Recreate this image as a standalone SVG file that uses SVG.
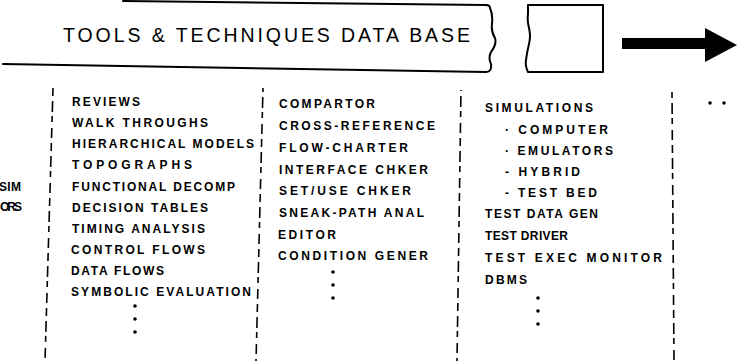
<svg xmlns="http://www.w3.org/2000/svg" width="739" height="361" viewBox="0 0 739 361">
<style>
.ln{fill:none;stroke:#000;stroke-width:2;stroke-linejoin:round;stroke-linecap:round}
.div{fill:none;stroke:#000;stroke-width:1.6;stroke-dasharray:8 5 11 4 6 6 10 5}
.title{font-family:"Liberation Sans",Arial,sans-serif;font-size:19.5px;fill:#000}
.t{font-family:"Liberation Sans",Arial,sans-serif;font-size:12px;font-weight:bold;fill:#000}
.dot{fill:#000}
</style>
<rect width="739" height="361" fill="#fff"/>
<g id="banner">
<path class="ln" d="M123,1 L486,5 Q490,5 490,8 Q493,14 492,24 Q491,32 495,38 Q497,44 491,52 Q488,58 491,64 Q492,72 486,72 L3,64"/>
<text class="title" x="63" y="42" textLength="407" lengthAdjust="spacing">TOOLS &amp; TECHNIQUES DATA BASE</text>
</g>
<g id="box">
<path class="ln" d="M528,5 L603,5 L603,72 L528,72 Q525,66 526,60 Q527,52 529,44 Q531,36 529,28 Q527,20 528,14 Q528,8 528,5 Z"/>
</g>
<g id="arrow">
<polygon points="622,38 705,38 705,28 737,45 705,62 705,49 622,49" fill="#000"/>
</g>
<g id="connectors">
<path class="div" d="M53,88 L45,361"/>
<path class="div" d="M263,88 L256,361" style="stroke-dashoffset:4"/>
<path class="div" d="M461,90 L457,361" style="stroke-dashoffset:7"/>
<path class="div" d="M672,92 L674,361" style="stroke-dashoffset:2"/>
</g>
<g id="left-cut">
<text class="t" x="-1" y="191" textLength="22" lengthAdjust="spacing">SIM</text>
<text class="t" x="0" y="211" textLength="22" lengthAdjust="spacing">ORS</text>
</g>
<g id="col1">
<text class="t" x="72" y="106" textLength="68" lengthAdjust="spacing">REVIEWS</text>
<text class="t" x="72" y="127" textLength="136" lengthAdjust="spacing">WALK THROUGHS</text>
<text class="t" x="72" y="148" textLength="182" lengthAdjust="spacing">HIERARCHICAL MODELS</text>
<text class="t" x="72" y="169" textLength="120" lengthAdjust="spacing">TOPOGRAPHS</text>
<text class="t" x="72" y="191" textLength="163" lengthAdjust="spacing">FUNCTIONAL DECOMP</text>
<text class="t" x="72" y="212" textLength="136" lengthAdjust="spacing">DECISION TABLES</text>
<text class="t" x="72" y="233" textLength="133" lengthAdjust="spacing">TIMING ANALYSIS</text>
<text class="t" x="71" y="254" textLength="134" lengthAdjust="spacing">CONTROL FLOWS</text>
<text class="t" x="71" y="275" textLength="93" lengthAdjust="spacing">DATA FLOWS</text>
<text class="t" x="71" y="296" textLength="180" lengthAdjust="spacing">SYMBOLIC EVALUATION</text>
<circle class="dot" cx="135" cy="306" r="1.8"/>
<circle class="dot" cx="135" cy="319" r="1.8"/>
<circle class="dot" cx="135" cy="332" r="1.8"/>
</g>
<g id="col2">
<text class="t" x="279" y="108" textLength="96" lengthAdjust="spacing">COMPARTOR</text>
<text class="t" x="279" y="130" textLength="156" lengthAdjust="spacing">CROSS-REFERENCE</text>
<text class="t" x="279" y="152" textLength="129" lengthAdjust="spacing">FLOW-CHARTER</text>
<text class="t" x="279" y="174" textLength="149" lengthAdjust="spacing">INTERFACE CHKER</text>
<text class="t" x="279" y="195" textLength="132" lengthAdjust="spacing">SET/USE CHKER</text>
<text class="t" x="279" y="217" textLength="145" lengthAdjust="spacing">SNEAK-PATH ANAL</text>
<text class="t" x="278" y="239" textLength="58" lengthAdjust="spacing">EDITOR</text>
<text class="t" x="278" y="260" textLength="150" lengthAdjust="spacing">CONDITION GENER</text>
<circle class="dot" cx="333" cy="272" r="1.8"/>
<circle class="dot" cx="333" cy="285" r="1.8"/>
<circle class="dot" cx="333" cy="298" r="1.8"/>
</g>
<g id="col3">
<text class="t" x="485" y="112" textLength="108" lengthAdjust="spacing">SIMULATIONS</text>
<text class="t" x="505" y="134" textLength="103" lengthAdjust="spacing">· COMPUTER</text>
<text class="t" x="505" y="155" textLength="108" lengthAdjust="spacing">· EMULATORS</text>
<text class="t" x="505" y="176" textLength="75" lengthAdjust="spacing">- HYBRID</text>
<text class="t" x="505" y="197" textLength="92" lengthAdjust="spacing">- TEST BED</text>
<text class="t" x="485" y="218" textLength="113" lengthAdjust="spacing">TEST DATA GEN</text>
<text class="t" x="485" y="240" textLength="83" lengthAdjust="spacing">TEST DRIVER</text>
<text class="t" x="485" y="262" textLength="177" lengthAdjust="spacing">TEST EXEC MONITOR</text>
<text class="t" x="485" y="284" textLength="42" lengthAdjust="spacing">DBMS</text>
<circle class="dot" cx="538" cy="298" r="1.8"/>
<circle class="dot" cx="538" cy="311" r="1.8"/>
<circle class="dot" cx="538" cy="324" r="1.8"/>
</g>
<g id="col4">
<circle class="dot" cx="710" cy="103" r="1.8"/>
<circle class="dot" cx="724" cy="103" r="1.8"/>
</g>
</svg>
